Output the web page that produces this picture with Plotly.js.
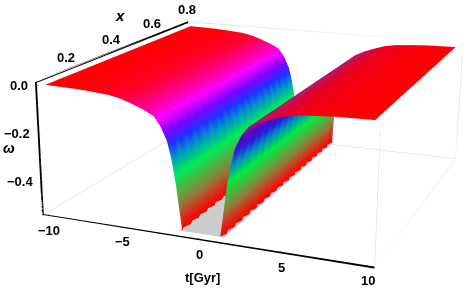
<!DOCTYPE html><html><head><meta charset="utf-8"><script src="https://cdn.plot.ly/plotly-3.0.1.min.js"></script>
<style>html,body{margin:0;background:#fff;overflow:hidden}#g{width:463px;height:288px}</style></head><body><div id="g"></div>
<script>
// axis extents (with Mathematica-style padding)
var tRange=[-10.4,10.4], xRange=[0.086,0.814], zRange=[-0.5466,0.014];
// tick labels
var tTicks=[-10,-5,0,5,10], tTickLabels=['\u221210','\u22125','0','5','10'];
var xTicks=[0.2,0.4,0.6,0.8], xTickLabels=['0.2','0.4','0.6','0.8'];
var zTicks=[0,-0.2,-0.4], zTickLabels=['0.0','\u22120.2','\u22120.4'];
var tAbs=[10,8,7,5.8,5,4.3,3.5,2.9,2.5,2.1,1.85,1.7,1.55,1.45,1.2];
var omega=[-0.002,-0.005,-0.009,-0.015,-0.025,-0.04,-0.06,-0.08,-0.115,-0.17,-0.235,-0.29,-0.35,-0.405,-0.53];
var shade=[0,0,0,0,0,0,0.001,0.003,0.005,0.007,0.007,0.005,0.002,0,0]; // streaks seen on the steep walls
var xRows=[0.1,0.12,0.14,0.16,0.18,0.2,0.22,0.24,0.26,0.28,0.3,0.32,0.34,0.36,0.38,0.4,0.42,0.44,0.46,0.48,0.5,0.52,0.54,0.56,0.58,0.6,0.62,0.64,0.66,0.68,0.7,0.72,0.74,0.76,0.78,0.8];
var clipEdge=[1.2,1.36]; // jagged clipped rim, alternating rows
var floorZ=-0.531;
// colours
var cLeft=[[0,'#ff0000'],[0.075,'#dc2814'],[0.19,'#96783a'],[0.283,'#5aaa3c'],[0.415,'#00eb5a'],[0.547,'#0096c8'],[0.642,'#1e32ff'],[0.736,'#8200ff'],[0.83,'#ff00ff'],[0.906,'#ff0082'],[0.95,'#ff003c'],[1,'#ff0000']];
var cRight=[[0,'#ff0000'],[0.075,'#dc2814'],[0.19,'#96783a'],[0.283,'#5aaa3c'],[0.415,'#00eb46'],[0.547,'#008cbe'],[0.642,'#281edc'],[0.736,'#5a00c8'],[0.81,'#8c148c'],[0.887,'#be145a'],[0.943,'#e10032'],[1,'#ff0000']];
var noLight={ambient:1,diffuse:0,specular:0,roughness:1,fresnel:0};
var off={x:{show:false},y:{show:false},z:{show:false}};

function wall(sign,cs){
  var ts=tAbs.map(function(t){return sign*t});
  var om=omega.slice(), sh=shade.slice();
  if(sign>0){ts=ts.slice().reverse();om=om.reverse();sh=sh.reverse()}
  var edgeCol=sign<0?ts.length-1:0;
  var X=xRows.map(function(_,r){var row=ts.slice();row[edgeCol]=sign*clipEdge[r%2];return row});
  var Z=xRows.map(function(){return om.slice()});
  var C=xRows.map(function(_,r){return om.map(function(v,j){return r%2?v+sh[j]:v-sh[j]})});
  return {type:'surface',x:X,y:xRows,z:Z,surfacecolor:C,cmin:-0.53,cmax:0,colorscale:cs,showscale:false,lighting:noLight,contours:off,hoverinfo:'skip'};
}
var floorTrace={type:'surface',x:[-1.4,1.4],y:[xRows[0],xRows[xRows.length-1]],z:[[floorZ,floorZ],[floorZ,floorZ]],cmin:-1,cmax:0,colorscale:[[0,'#cccccc'],[1,'#cccccc']],showscale:false,lighting:noLight,contours:off,hoverinfo:'skip'};

function seg(list){var X=[],Y=[],Z=[];list.forEach(function(s){X.push(s[0][0],s[1][0],null);Y.push(s[0][1],s[1][1],null);Z.push(s[0][2],s[1][2],null)});return {x:X,y:Y,z:Z}}
var t0=tRange[0],t1=tRange[1],x0=xRange[0],x1=xRange[1],z0=zRange[0],z1=zRange[1];
var greyEdges=seg([[[t1,x0,z0],[t1,x0,z1]],[[t0,x0,z1],[t1,x0,z1]],[[t1,x0,z1],[t1,x1,z1]],[[t1,x0,z0],[t1,x1,z0]],[[t1,x1,z0],[t1,x1,z1]],[[t0,x1,z1],[t1,x1,z1]],[[t0,x1,z0],[t1,x1,z0]],[[t0,x0,z0],[t0,x1,z0]],[[t0,x1,z0],[t0,x1,z1]]]);
var tickList=[];
tTicks.forEach(function(t){tickList.push([[t,x0,z0],[t,x0,z0+0.008]])});
xTicks.forEach(function(x){tickList.push([[t0+0.2,x,z1],[t0,x,z1]])});
zTicks.forEach(function(z){tickList.push([[t0,x0,z],[t0+0.2,x0,z]])});
var tickLines=seg(tickList);
function line3(d,color,w){return Object.assign({type:'scatter3d',mode:'lines',line:{color:color,width:w},showlegend:false,hoverinfo:'skip'},d)}
// each axis drawn twice, one pixel apart, for a heavier stroke
var axisZstep=0.004, axisTstep=0.06;
var axes=[
 line3({x:[t0,t0],y:[x0,x1],z:[z1,z1]},'#000',2),
 line3({x:[t0,t0],y:[x0,x1],z:[z1-axisZstep,z1-axisZstep]},'#000',2),
 line3({x:[t0,t0],y:[x0,x0],z:[z0,z1]},'#000',2),
 line3({x:[t0+axisTstep,t0+axisTstep],y:[x0,x0],z:[z0,z1]},'#000',2),
 line3({x:[t0,t1],y:[x0,x0],z:[z0,z0]},'#000',2),
 line3({x:[t0,t1],y:[x0,x0],z:[z0+axisZstep,z0+axisZstep]},'#000',2)];

var tickFont={family:'Liberation Sans',size:13,color:'#000'};
var ann3=[];
function lab(x,y,z,text,xa,xs,ys){ann3.push({x:x,y:y,z:z,text:'<b>'+text+'</b>',showarrow:false,font:tickFont,xanchor:xa,yanchor:'middle',xshift:xs,yshift:ys})}
tTicks.forEach(function(t,i){lab(t,x0,z0,tTickLabels[i],'center',1,-14)});
xTicks.forEach(function(x,i){lab(t0,x,z1,xTickLabels[i],'center',1,13)});
zTicks.forEach(function(z,i){lab(t0,x0,z,zTickLabels[i],'right',-6,0)});

var W=463,H=288;
function paperLab(px,py,text,size){return {xref:'paper',yref:'paper',x:px/W,y:1-py/H,text:text,showarrow:false,xanchor:'center',yanchor:'middle',font:{family:'Liberation Sans',size:size,color:'#000'}}}
var axisOff={showgrid:false,zeroline:false,showbackground:false,showticklabels:false,showline:false,showspikes:false,ticks:'',title:{text:''}};
var fov=0.2633;
var layout={width:W,height:H,margin:{l:0,r:0,t:0,b:0},paper_bgcolor:'#fff',showlegend:false,hovermode:false,
 annotations:[paperLab(202,277,'<b>t[Gyr]</b>',13),paperLab(120,15,'<b><i>x</i></b>',15),paperLab(9,148,'<b><i>\u03c9</i></b>',14)],
 scene:{domain:{x:[0,1],y:[0,1]},aspectmode:'manual',aspectratio:{x:1,y:1.0158,z:0.4008},
  xaxis:Object.assign({range:tRange},axisOff),yaxis:Object.assign({range:xRange},axisOff),zaxis:Object.assign({range:zRange},axisOff),
  camera:{eye:{x:1.1668,y:-3.0433,z:0.91505},center:{x:-0.01335,y:-0.2404,z:0},up:{x:0.0055,y:0.0023,z:1}},
  annotations:ann3}};
Plotly.newPlot('g',[floorTrace,wall(-1,cLeft),wall(1,cRight),line3(greyEdges,'#dcdcdc',1.2)].concat(axes,[line3(tickLines,'#000',1)]),layout,{displayModeBar:false,staticPlot:false}).then(function(){
 var sc=document.getElementById('g')._fullLayout.scene._scene;
 sc.glplot.fovy=fov; sc.glplot.redraw();
});
</script></body></html>
